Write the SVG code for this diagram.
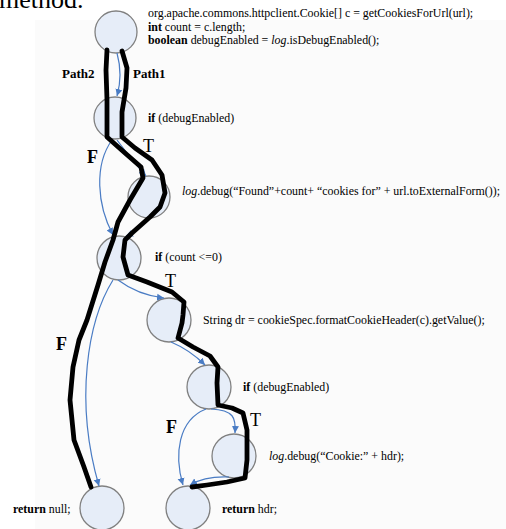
<svg xmlns="http://www.w3.org/2000/svg" width="506" height="529" viewBox="0 0 506 529">
<defs>
<style>
.node{fill:#e6edf8;stroke:#808080;stroke-width:1.3}
.t{font-family:"Liberation Serif","Times New Roman",serif;font-size:11.9px;fill:#000}
.b{font-weight:bold}
.i{font-style:italic}
.big{font-family:"Liberation Serif","Times New Roman",serif;font-size:18px;fill:#000}
.blue{fill:none;stroke:#4a7cc4;stroke-width:1.2;marker-end:url(#ah)}
.path{fill:none;stroke:#000;stroke-width:4.8;stroke-linejoin:round;stroke-linecap:round}
</style>
<marker id="ah" markerWidth="8" markerHeight="8" refX="7" refY="4" orient="auto" markerUnits="userSpaceOnUse">
<path d="M0,0.5 L7,4 L0,7.5 Z" fill="#4a7cc4"/>
</marker>
</defs>
<rect x="0" y="0" width="506" height="529" fill="#fff"/>
<rect x="35" y="20" width="471" height="509" fill="#fbfbfb"/>
<text x="-1" y="8" style="font-family:'Liberation Serif','Times New Roman',serif;font-size:26px">method.</text>

<g id="n1">
<circle class="node" cx="116" cy="32" r="21"/>
<text class="t" x="148" y="17">org.apache.commons.httpclient.Cookie[] c = getCookiesForUrl(url);</text>
<text class="t" x="148" y="30.5"><tspan class="b">int</tspan> count = c.length;</text>
<text class="t" x="148" y="44"><tspan class="b">boolean</tspan> debugEnabled = <tspan class="i">log</tspan>.isDebugEnabled();</text>
</g>
<g id="n2">
<circle class="node" cx="115" cy="118" r="21"/>
<text class="t" x="148" y="122"><tspan class="b">if</tspan> (debugEnabled)</text>
</g>
<g id="n3">
<circle class="node" cx="149" cy="197" r="21"/>
<text class="t" x="182" y="195"><tspan class="i">log</tspan>.debug(“Found”+count+ “cookies for” + url.toExternalForm());</text>
</g>
<g id="n4">
<circle class="node" cx="119" cy="258" r="22"/>
<text class="t" x="155" y="261"><tspan class="b">if</tspan> (count &lt;=0)</text>
</g>
<g id="n5">
<circle class="node" cx="169" cy="320" r="22"/>
<text class="t" x="203" y="324">String dr = cookieSpec.formatCookieHeader(c).getValue();</text>
</g>
<g id="n6">
<circle class="node" cx="209" cy="387" r="22"/>
<text class="t" x="243" y="391"><tspan class="b">if</tspan> (debugEnabled)</text>
</g>
<g id="n7">
<circle class="node" cx="234" cy="456" r="22"/>
<text class="t" x="269" y="460"><tspan class="i">log</tspan>.debug(“Cookie:” + hdr);</text>
</g>
<g id="n8">
<circle class="node" cx="188" cy="508" r="22"/>
<text class="t" x="222" y="513"><tspan class="b">return</tspan> hdr;</text>
</g>
<g id="n9">
<circle class="node" cx="102" cy="508" r="22"/>
<text class="t" x="13" y="513"><tspan class="b">return</tspan> null;</text>
</g>

<g id="connectors">
<path class="blue" d="M117,53 Q123,75 117,96"/>
<path class="blue" d="M117,140 Q130,158 146,176"/>
<path class="blue" d="M112,140 C94,165 97,205 113,235"/>
<path class="blue" d="M148,218 Q140,230 126,236"/>
<path class="blue" d="M118,280 Q138,295 164,298"/>
<path class="blue" d="M113,280 C88,320 74,400 99,486"/>
<path class="blue" d="M171,342 Q190,350 205,365"/>
<path class="blue" d="M211,409 C234,410 236,418 235,433"/>
<path class="blue" d="M206,409 C178,420 174,455 183,485"/>
<path class="blue" d="M229,477 Q205,476 190,485"/>
<path class="path" d="M107,50 L106,70 L107,100 L107,137 L125,153 L141,167 L143,178 L130,200 L118,222 L113,240 L105,262 L98,285 L87,320 L79,340 L73,367 L70,400 L74,440 L84,467 L91,487"/>
<path class="path" d="M122,51 L127,68 L126,88 L122,112 L122,137 L135,148 L152,160 L162,175 L165,193 L160,207 L150,217 L132,233 L125,240 L123,257 L128,275 L147,282 L172,292 L184,302 L183,315 L182,323 L178,338 L193,347 L210,356 L218,367 L217,383 L218,405 L232,408 L243,413 L247,430 L247,460 L245,478 L227,482 L207,485 L192,487"/>
<text class="t b" x="62" y="78" style="font-size:13px">Path2</text>
<text class="t b" x="133" y="78" style="font-size:13px">Path1</text>
<text class="big b" x="87" y="163">F</text>
<text class="big" x="143" y="152">T</text>
<text class="big" x="165" y="287">T</text>
<text class="big b" x="56" y="350">F</text>
<text class="big" x="250" y="426">T</text>
<text class="big b" x="166" y="433">F</text>
</g>
</svg>
